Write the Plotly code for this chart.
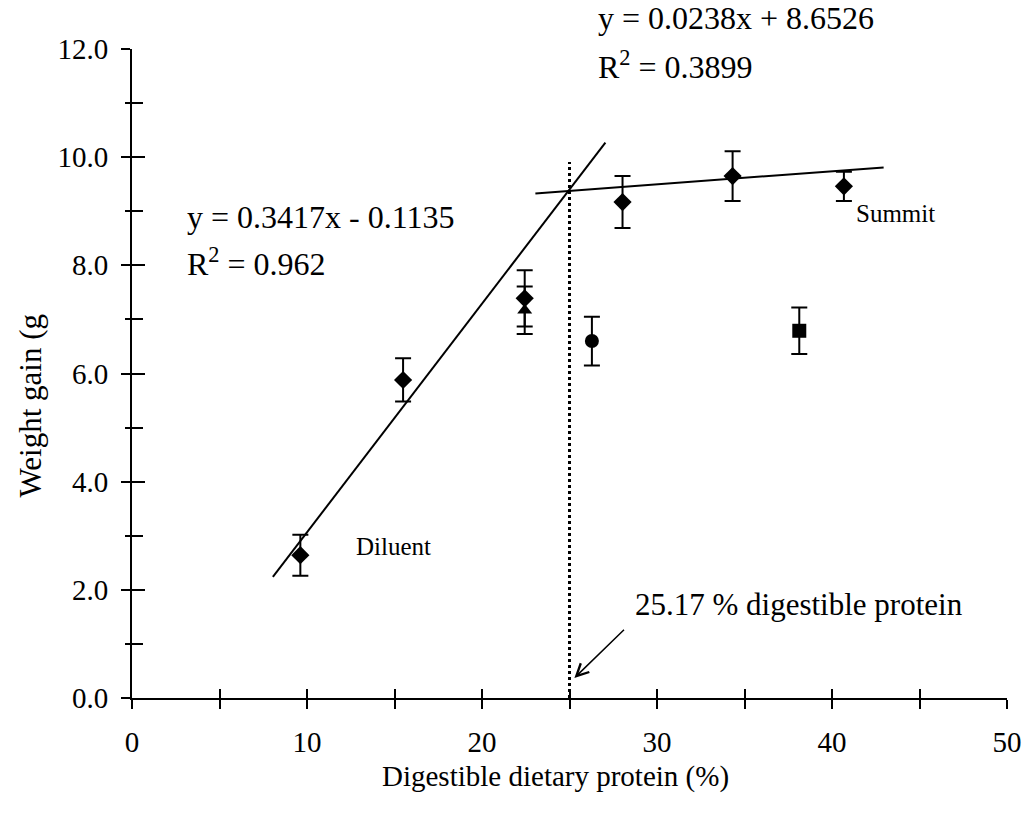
import plotly.graph_objects as go

# ---- data ----
diamond_x = [9.62, 15.49, 22.44, 28.03, 34.32, 40.68]
diamond_y = [2.64, 5.88, 7.39, 9.17, 9.65, 9.46]
diamond_err = [0.38, 0.40, 0.52, 0.48, 0.46, 0.27]

triangle_x = [22.44]
triangle_y = [7.17]
triangle_err = [0.44]

circle_x = [26.28]
circle_y = [6.60]
circle_err = [0.45]

square_x = [38.13]
square_y = [6.79]
square_err = [0.43]

# trend lines as drawn
line1_x = [8.05, 27.05]
line1_y = [2.24, 10.27]
line2_x = [23.05, 42.95]
line2_y = [9.33, 9.81]

breakpoint_x = 25.0
breakpoint_top = 9.91

x_major = [0, 10, 20, 30, 40, 50]
x_minor = [5, 15, 25, 35, 45]
x_labels = ["0", "10", "20", "30", "40", "50"]
y_major = [0, 2, 4, 6, 8, 10, 12]
y_minor = [1, 3, 5, 7, 9, 11]
y_labels = ["0.0", "2.0", "4.0", "6.0", "8.0", "10.0", "12.0"]

FONT = "Liberation Serif"
BLACK = "black"

fig = go.Figure()

def err(vals):
    return dict(type="data", array=vals, visible=True, color=BLACK, thickness=2, width=8)

fig.add_trace(go.Scatter(x=line1_x, y=line1_y, mode="lines",
                         line=dict(color=BLACK, width=2), showlegend=False))
fig.add_trace(go.Scatter(x=line2_x, y=line2_y, mode="lines",
                         line=dict(color=BLACK, width=2), showlegend=False))
fig.add_trace(go.Scatter(x=[breakpoint_x, breakpoint_x], y=[0, breakpoint_top], mode="lines",
                         line=dict(color=BLACK, width=3, dash="dot"), showlegend=False))

fig.add_trace(go.Scatter(x=diamond_x, y=diamond_y, mode="markers", error_y=err(diamond_err),
                         marker=dict(symbol="diamond", size=14, color=BLACK), showlegend=False))
fig.add_trace(go.Scatter(x=triangle_x, y=triangle_y, mode="markers", error_y=err(triangle_err),
                         marker=dict(symbol="triangle-up", size=13, color=BLACK), showlegend=False))
fig.add_trace(go.Scatter(x=circle_x, y=circle_y, mode="markers", error_y=err(circle_err),
                         marker=dict(symbol="circle", size=14, color=BLACK), showlegend=False))
fig.add_trace(go.Scatter(x=square_x, y=square_y, mode="markers", error_y=err(square_err),
                         marker=dict(symbol="square", size=14, color=BLACK), showlegend=False))

# dummy trace on overlay axes so they render
fig.add_trace(go.Scatter(x=[0], y=[0], xaxis="x2", yaxis="y2", mode="markers",
                         marker=dict(opacity=0), showlegend=False, hoverinfo="skip"))

tickfont = dict(family=FONT, size=29, color=BLACK)

fig.update_layout(
    width=1034, height=815,
    margin=dict(l=132, r=22, t=49, b=117),
    paper_bgcolor="white", plot_bgcolor="white",
    xaxis=dict(range=[0, 50], tickvals=x_major, ticktext=x_labels, ticks="outside",
               ticklen=9, tickwidth=2, tickcolor=BLACK, showline=True, linecolor=BLACK,
               linewidth=2, showgrid=False, zeroline=False, tickfont=tickfont,
               ticklabelstandoff=8,
               minor=dict(tickvals=x_minor, ticks="outside", ticklen=9, tickwidth=2,
                          tickcolor=BLACK, showgrid=False)),
    yaxis=dict(range=[0, 12], tickvals=y_major, ticktext=y_labels, ticks="outside",
               ticklen=9, tickwidth=2, tickcolor=BLACK, showline=True, linecolor=BLACK,
               linewidth=2, showgrid=False, zeroline=False, tickfont=tickfont,
               ticklabelstandoff=7,
               minor=dict(tickvals=y_minor, ticks="outside", ticklen=5, tickwidth=2,
                          tickcolor=BLACK, showgrid=False)),
    xaxis2=dict(range=[0, 50], overlaying="x", tickvals=x_major, ticks="inside",
                ticklen=9, tickwidth=2, tickcolor=BLACK, showticklabels=False,
                showgrid=False, zeroline=False, showline=False, side="bottom",
                minor=dict(tickvals=x_minor, ticks="inside", ticklen=9, tickwidth=2,
                           tickcolor=BLACK, showgrid=False)),
    yaxis2=dict(range=[0, 12], overlaying="y", tickvals=y_major, ticks="inside",
                ticklen=13, tickwidth=2, tickcolor=BLACK, showticklabels=False,
                showgrid=False, zeroline=False, showline=False, side="left",
                minor=dict(tickvals=y_minor, ticks="inside", ticklen=11, tickwidth=2,
                           tickcolor=BLACK, showgrid=False)),
)

txt = dict(family=FONT, size=32, color=BLACK)
small = dict(family=FONT, size=25, color=BLACK)

def note(x, y, text, font, xref="x", yref="y"):
    fig.add_annotation(x=x, y=y, xref=xref, yref=yref, text=text, showarrow=False,
                       xanchor="left", yanchor="middle", font=font)

note(3.03, 8.89, "y = 0.3417x - 0.1135", txt)
note(3.03, 8.06, "R<sup>2</sup> = 0.962", txt)
note(26.5, 1.048, "y = 0.0238x + 8.6526", txt, yref="paper")
note(26.5, 0.975, "R<sup>2</sup> = 0.3899", txt, yref="paper")
note(12.69, 2.81, "Diluent", small)
note(41.27, 8.96, "Summit", small)
note(28.6, 1.72, "25.17 % digestible protein", dict(family=FONT, size=31, color=BLACK))

# arrow
fig.add_annotation(x=25.28, y=0.37, ax=28.2, ay=1.29, xref="x", yref="y", axref="x", ayref="y",
                   text="", showarrow=True, arrowhead=5, arrowsize=1.6, arrowwidth=1.5,
                   arrowcolor=BLACK)

# axis titles
fig.add_annotation(x=0.484, y=-0.121, xref="paper", yref="paper", text="Digestible dietary protein (%)",
                   showarrow=False, xanchor="center", yanchor="middle",
                   font=dict(family=FONT, size=29, color=BLACK))
fig.add_annotation(x=-0.116, y=0.45, xref="paper", yref="paper", text="Weight gain (g",
                   showarrow=False, xanchor="center", yanchor="middle", textangle=-90,
                   font=dict(family=FONT, size=31, color=BLACK))

fig.write_html("out.html")
